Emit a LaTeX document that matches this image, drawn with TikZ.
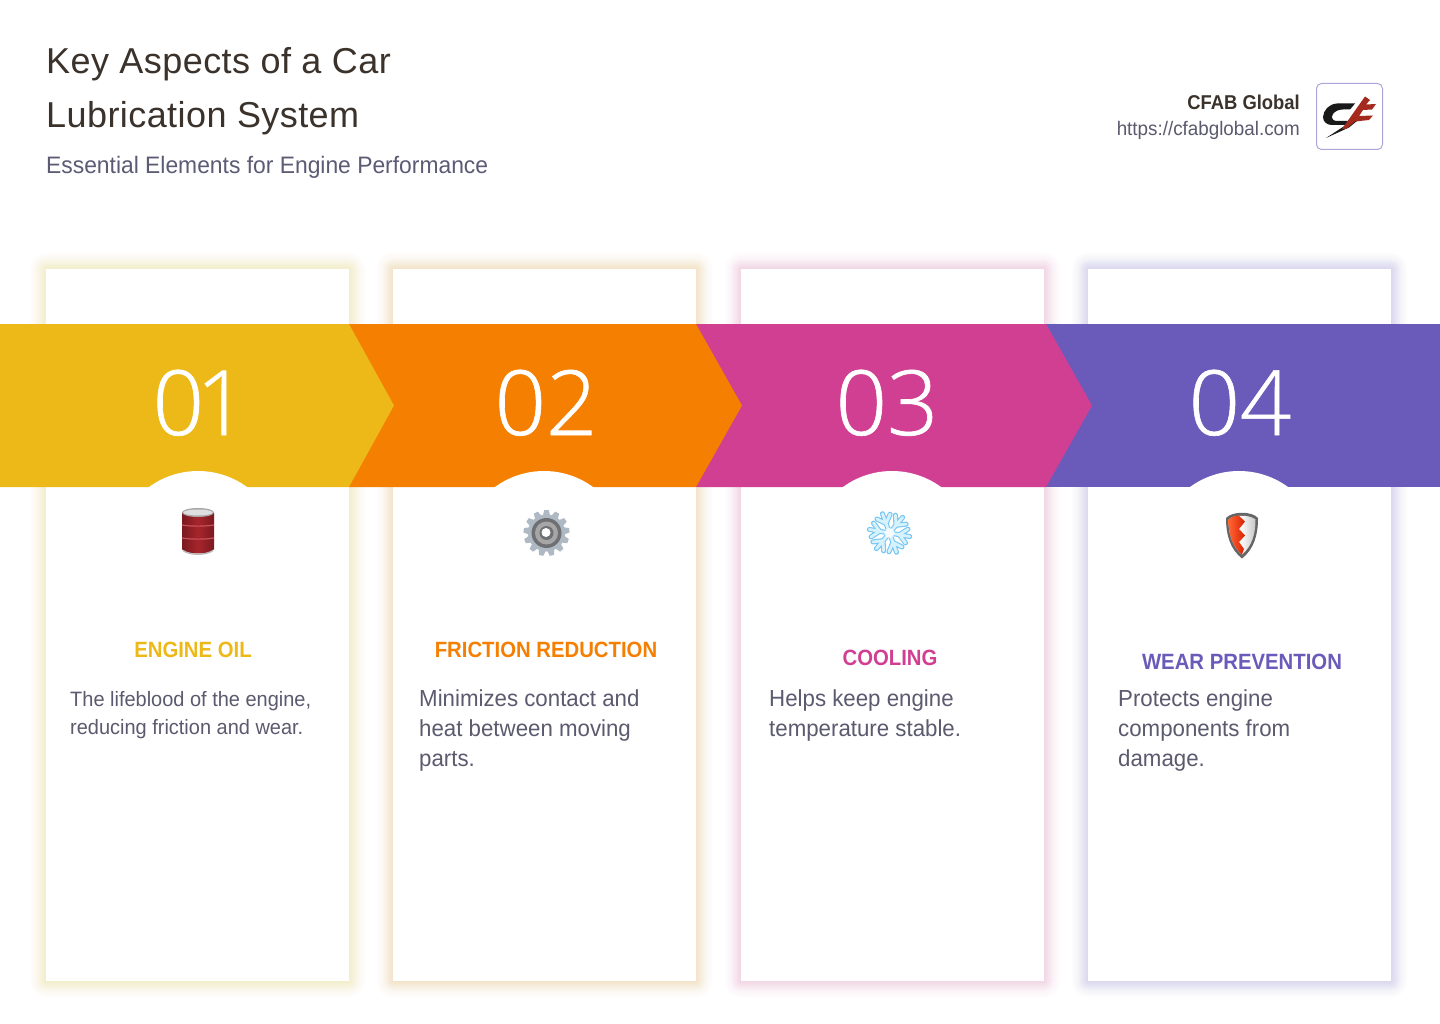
\documentclass[tikz,border=0pt]{standalone}
\usepackage{fontspec}
\setmainfont[FakeStretch=0.96,BoldFeatures={FakeStretch=0.92}]{Liberation Sans}
\newfontfamily\numfont[UprightFont={* Light},FakeBold=0.7]{Open Sans}
\newfontfamily\titlefont[LetterSpace=1.2]{Liberation Sans}
\definecolor{cyel}{HTML}{EDB918}
\definecolor{cora}{HTML}{F47F00}
\definecolor{cmag}{HTML}{D13F92}
\definecolor{cpur}{HTML}{6A5BBB}
\definecolor{ctitle}{HTML}{3A322B}
\definecolor{csub}{HTML}{5C5B75}
\definecolor{cbody}{HTML}{5B5A6E}
\definecolor{barrel}{HTML}{A6252C}
\definecolor{barreld}{HTML}{7A1A20}
\definecolor{barrell}{HTML}{C8525A}
\definecolor{flakeo}{HTML}{78C6F2}
\definecolor{flakei}{HTML}{D6F2FC}
\definecolor{gearl}{HTML}{AEB9C4}
\definecolor{geard}{HTML}{6F7074}
\definecolor{logored}{HTML}{A52A1E}
\newcommand{\bstrut}{\rule{0pt}{20pt}}
\tikzset{
  titletxt/.style={anchor=base west,inner sep=0pt,text=ctitle,font=\titlefont\fontsize{36}{36}\selectfont},
  numtxt/.style={anchor=base,inner sep=0pt,text=white,font=\numfont\fontsize{90}{90}\selectfont},
  labeltxt/.style={anchor=base,inner sep=0pt,font=\bfseries\fontsize{22.1}{24}\selectfont},
  bodybig/.style={anchor=north west,inner sep=0pt,align=left,text=cbody,font=\fontsize{23.2}{30}\selectfont},
  bodysmall/.style={anchor=north west,inner sep=0pt,align=left,text=cbody,font=\fontsize{20.8}{28}\selectfont},
}
\begin{document}
\begin{tikzpicture}[x=1pt,y=-1pt]
\useasboundingbox (0,0) rectangle (1440,1024);
\fill[white] (0,0) rectangle (1440,1024);
% cards with glow
\foreach \xa/\xb/\c in {46/349/cyel,393/696/cora,741/1044/cmag,1088/1391/cpur}{
  \foreach \g in {1,2,3,4,5,6,7,8,9,10,12,14,16}{
    \fill[\c,opacity=0.014,rounded corners=\g pt] (\xa-\g,269-\g) rectangle (\xb+\g,981+\g);
  }
  \fill[white] (\xa,269) rectangle (\xb,981);
}
% chevrons
\fill[cpur] (1046,324) -- (1440,324) -- (1440,487) -- (1046,487) -- cycle;
\fill[cmag] (696,324) -- (1046,324) -- (1092,405.5) -- (1046,487) -- (696,487) -- cycle;
\fill[cora] (349,324) -- (696,324) -- (742,405.5) -- (696,487) -- (349,487) -- cycle;
\fill[cyel] (0,324) -- (349,324) -- (394,405.5) -- (349,487) -- (0,487) -- cycle;
% white arcs
\foreach \cx in {198,544,892,1239}{
  \fill[white] (\cx,554) circle[radius=83pt];
}
% numbers
\node[numtxt] (n1) at (200,435) {0\kern-8pt 1};
\node[numtxt] (n2) at (546,435) {02};
\node[numtxt] (n3) at (887,435) {03};
\node[numtxt] (n4) at (1240,435) {04};
% header
\node[titletxt] (t1) at (46,74) {Key Aspects of a Car};
\node[titletxt] (t2) at (46,128) {Lubrication System};
\node[anchor=base west,inner sep=0pt,text=csub,font=\fontsize{23.8}{24}\selectfont] (sub) at (46,174) {Essential Elements for Engine Performance};
\node[anchor=base east,inner sep=0pt,text=ctitle,font=\bfseries\fontsize{20}{20}\selectfont] (brand) at (1300,110) {CFAB Global};
\node[anchor=base east,inner sep=0pt,text=cbody,font=\fontsize{19.6}{19}\selectfont] (url) at (1300,136) {https://cfabglobal.com};
% logo
\draw[draw=cpur!55,line width=1pt,rounded corners=5pt,fill=white] (1316.5,83.5) rectangle (1382.5,149.5);
\fill[black!90] (1355,103.5) -- (1337,103.5) .. controls (1329,104) and (1323.5,110) .. (1323,117)
  .. controls (1323,122) and (1327,125) .. (1332,125) -- (1346,125) -- (1326,138) -- (1349,127.5) -- (1357,121)
  -- (1336,121) .. controls (1332,120.5) and (1331,117) .. (1333,114) .. controls (1335,111) and (1339,109.5) .. (1343,109.5) -- (1350,109.5) -- cycle;
\fill[logored] (1365,96.5) -- (1342,129) -- (1346,129) -- (1355,121.5) -- (1369,120) -- (1373,115.5) -- (1359,116) -- (1363,110) -- (1372,109.5) -- (1376,104) -- (1366,104.5) -- (1370,100) -- cycle;
% barrel
\path[left color=barreld,right color=barreld,middle color=barrel]
  (182,513) -- (214,513) -- (214,549) .. controls (212,555) and (184,555) .. (182,549) -- cycle;
\fill[gray!70] (198,512.5) ellipse[x radius=16pt,y radius=4.5pt];
\fill[gray!25] (198,512.5) ellipse[x radius=14.5pt,y radius=3pt];
\foreach \ry in {525,538}{
  \draw[line width=1.2pt,barrell] (182,\ry) .. controls (190,\ry+1.5) and (206,\ry+1.5) .. (214,\ry);
}
\draw[line width=1.4pt,gray!55] (183,550.5) .. controls (190,555.5) and (206,555.5) .. (213,550.5);
% gear
\begin{scope}[shift={(546.5,533)}]
  \foreach \a in {0,27.7,...,340}{
    \fill[rotate=\a,gearl] (-3.6,-17.5) -- (-2.2,-23) -- (2.2,-23) -- (3.6,-17.5) -- cycle;
  }
  \fill[gearl] (0,0) circle[radius=18.5pt];
  \fill[geard] (0,0) circle[radius=15pt];
  \fill[black!35] (0,0) circle[radius=11.5pt];
  \fill[geard] (0,0) circle[radius=7pt];
  \fill[white] (-0.5,-0.5) circle[radius=4.5pt];
\end{scope}
% snowflake
\begin{scope}[shift={(889.5,533)}]
  \foreach \a in {20,80,...,320}{
    \begin{scope}[rotate=\a]
      \draw[line width=5pt,line cap=round,line join=round,color=flakeo]
        (0,0) -- (0,-20.5) (0,-10) -- (-7,-17.5) (0,-10) -- (7,-17.5);
    \end{scope}
  }
  \foreach \a in {20,80,...,320}{
    \begin{scope}[rotate=\a]
      \draw[line width=2.8pt,line cap=round,line join=round,color=flakei]
        (0,0) -- (0,-20.5) (0,-10) -- (-7,-17.5) (0,-10) -- (7,-17.5);
    \end{scope}
  }
  \fill[white,opacity=.8] (0,0) circle[radius=5pt];
\end{scope}
% shield
\fill[black!60] (1226,518) .. controls (1232,511) and (1252,511) .. (1258,518) .. controls (1258,535) and (1254,549) .. (1242,558.5) .. controls (1230,549) and (1226,535) .. (1226,518) -- cycle;
\path[left color=black!12,right color=black!22,middle color=black!3] (1228.5,519.5) .. controls (1234,514.5) and (1250,514.5) .. (1255.5,519.5) .. controls (1255.5,534) and (1252,546) .. (1242,554.5) .. controls (1232,546) and (1228.5,534) .. (1228.5,519.5) -- cycle;
\path[left color=red!50!orange!80!white,right color=red!70!orange!85!black] (1228.5,519.5) .. controls (1231,517) and (1235,516) .. (1238.5,515.5) -- (1245,521.5) -- (1239,529) -- (1245,535.5) -- (1239,542) -- (1244,549) -- (1242,554.5) .. controls (1232,546) and (1228.5,534) .. (1228.5,519.5) -- cycle;
% labels and body
\node[labeltxt,text=cyel] (l1) at (193,657) {ENGINE OIL};
\node[bodysmall] (b1) at (70,686) {\bstrut The lifeblood of the engine,\\reducing friction and wear.};
\node[labeltxt,text=cora] (l2) at (546,657) {FRICTION REDUCTION};
\node[bodybig] (b2) at (419,686) {\bstrut Minimizes contact and\\heat between moving\\parts.};
\node[labeltxt,text=cmag] (l3) at (890,665) {COOLING};
\node[bodybig] (b3) at (769,686) {\bstrut Helps keep engine\\temperature stable.};
\node[labeltxt,text=cpur] (l4) at (1242,669) {WEAR PREVENTION};
\node[bodybig] (b4) at (1118,686) {\bstrut Protects engine\\components from\\damage.};
\end{tikzpicture}
\end{document}
